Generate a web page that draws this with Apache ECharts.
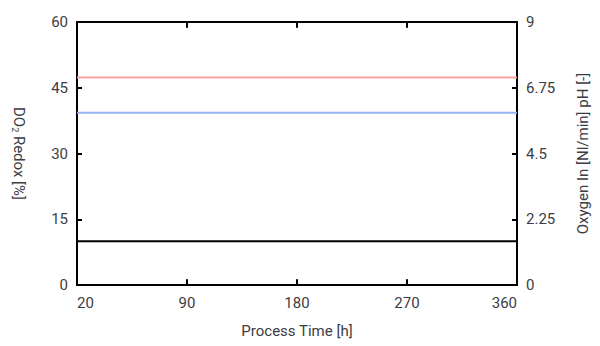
<!DOCTYPE html>
<html><head><meta charset="utf-8">
<script src="https://cdn.jsdelivr.net/npm/echarts@6/dist/echarts.min.js"></script>
<style>html,body{margin:0;padding:0;background:#fff}#c{width:600px;height:346px}</style>
</head><body><div id="c"></div>
<script>
const timeH = [0, 360];
const phValues = [7.1, 7.1];
const do2Values = [39.3, 39.3];
const oxygenIn = [1.5, 1.5];
const xTickValues = [0, 90, 180, 270, 360];
const xTickLabels = ['20', '90', '180', '270', '360'];
const leftTicks = [0, 15, 30, 45, 60];
const rightTicks = ['0', '2.25', '4.5', '6.75', '9'];

const font = 'Roboto';
const txt = '#3c3c44';
const chart = echarts.init(document.getElementById('c'), null, { renderer: 'svg' });
const pair = (xs, ys) => xs.map((x, i) => [x, ys[i]]);
const line = () => ({ show: true, onZero: false, lineStyle: { color: '#000', width: 2 } });
const tick = () => ({ show: true, inside: true, length: 5, lineStyle: { color: '#000', width: 2 } });
const innerX = xTickValues.slice(1, -1);
chart.setOption({
  animation: false,
  grid: { left: 77, right: 83, top: 22, bottom: 61, show: true, borderColor: '#000', borderWidth: 2, backgroundColor: 'transparent' },
  xAxis: [{
    type: 'value', min: 0, max: 360, interval: 90, position: 'bottom',
    axisLine: line(), axisTick: tick(), splitLine: { show: false },
    axisLabel: { color: txt, fontFamily: font, fontSize: 15, margin: 10,
      alignMinLabel: 'left', alignMaxLabel: 'right',
      formatter: (v) => xTickLabels[xTickValues.indexOf(v)] },
    name: 'Process Time [h]', nameLocation: 'middle', nameGap: 38,
    nameTextStyle: { color: txt, fontFamily: font, fontSize: 15 }
  }, {
    type: 'value', min: 0, max: 360, interval: 90, position: 'top',
    axisLine: line(), axisTick: tick(),
    axisLabel: { show: false }, splitLine: { show: false }
  }],
  yAxis: [{
    type: 'value', min: 0, max: 60, interval: 15, position: 'left',
    axisLine: line(), axisTick: tick(), splitLine: { show: false },
    axisLabel: { color: txt, fontFamily: font, fontSize: 15, margin: 9,
      formatter: (v) => String(leftTicks[Math.round(v / 15)]) },
    name: '{a|DO}{s|2}{a| Redox [%]}', nameLocation: 'middle', nameGap: 50, nameRotate: -90,
    nameTextStyle: { rich: {
      a: { color: txt, fontFamily: font, fontSize: 15 },
      s: { color: txt, fontFamily: font, fontSize: 9, padding: [8, 0, 0, 0] } } }
  }, {
    type: 'value', min: 0, max: 9, interval: 2.25, position: 'right',
    axisLine: line(), axisTick: tick(), splitLine: { show: false },
    axisLabel: { color: txt, fontFamily: font, fontSize: 15, margin: 9,
      formatter: (v) => rightTicks[Math.round(v / 2.25)] },
    name: 'Oxygen In [Nl/min] pH [-]', nameLocation: 'middle', nameGap: 58, nameRotate: 90,
    nameTextStyle: { color: txt, fontFamily: font, fontSize: 15 }
  }],
  series: [
    { name: 'pH', type: 'line', yAxisIndex: 1, xAxisIndex: 0, showSymbol: false,
      data: pair(timeH, phValues), lineStyle: { color: '#f5a3a0', width: 2 } },
    { name: 'DO2', type: 'line', yAxisIndex: 0, xAxisIndex: 0, showSymbol: false,
      data: pair(timeH, do2Values), lineStyle: { color: '#94b2ee', width: 2 } },
    { name: 'Oxygen In', type: 'line', yAxisIndex: 1, xAxisIndex: 0, showSymbol: false,
      data: pair(timeH, oxygenIn), lineStyle: { color: '#000', width: 2 } },
    { name: 'xTickBottom', type: 'scatter', yAxisIndex: 0, xAxisIndex: 0, silent: true,
      symbol: 'rect', symbolSize: [2, 6], symbolOffset: [0, -3], clip: false,
      itemStyle: { color: '#000' }, data: innerX.map(v => [v, leftTicks[0]]) },
    { name: 'xTickTop', type: 'scatter', yAxisIndex: 0, xAxisIndex: 0, silent: true,
      symbol: 'rect', symbolSize: [2, 6], symbolOffset: [0, 3], clip: false,
      itemStyle: { color: '#000' }, data: innerX.map(v => [v, leftTicks[leftTicks.length - 1]]) }
  ]
});
</script></body></html>
